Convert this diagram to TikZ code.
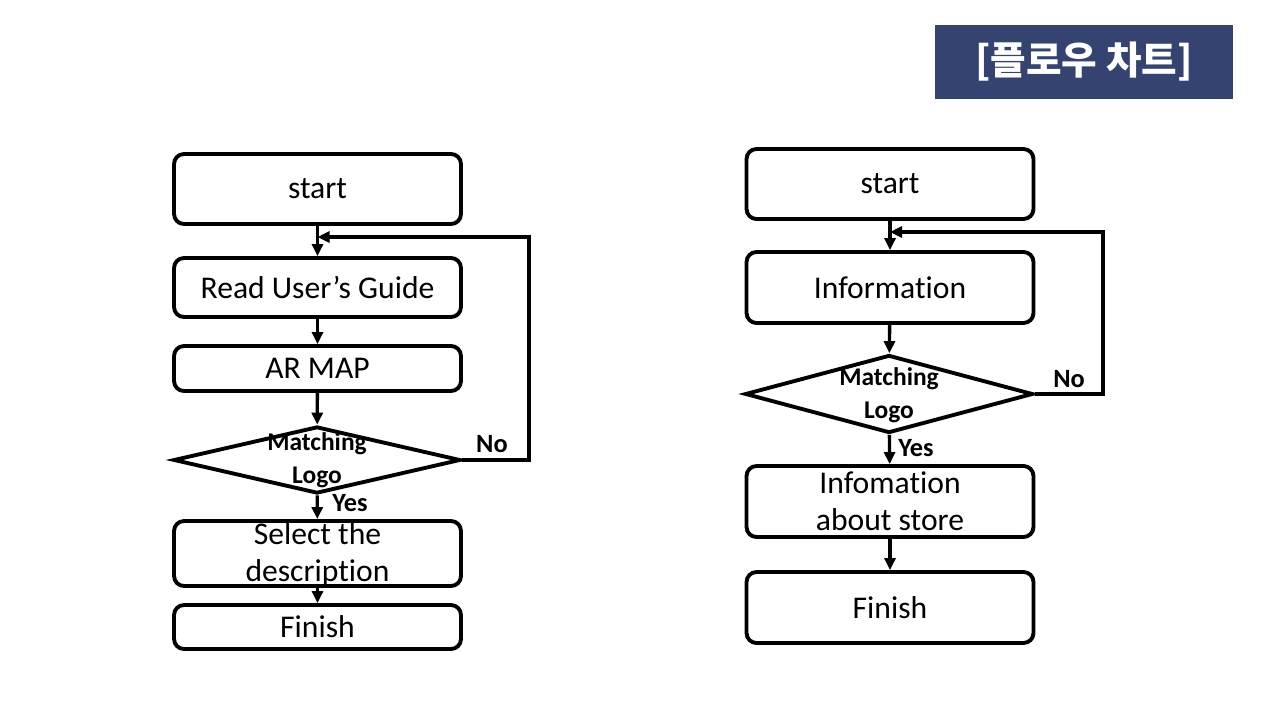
\documentclass[tikz,border=0pt]{standalone}
\usepackage{fontspec}
\setmainfont{Carlito}[Ligatures=CommonOff]
\newfontfamily\krfont{Noto Sans CJK KR}
\usetikzlibrary{shapes.geometric,arrows.meta}
\definecolor{titleblue}{HTML}{344370}
\begin{document}
\begin{tikzpicture}[x=0.02cm,y=-0.02cm,
  box/.style={draw,line width=2.2pt,rounded corners=0.2cm,minimum width=5.74cm,inner sep=0pt,align=center,font=\fontsize{18}{21}\selectfont},
  btext/.style={inner sep=0pt,align=center,font=\fontsize{18}{21}\selectfont},
  dec/.style={draw,line width=2.2pt,diamond,minimum width=5.74cm,inner sep=0pt},
  dtext/.style={align=center,font=\fontsize{14.5}{18.7}\bfseries\selectfont,inner sep=0pt},
  lab/.style={font=\fontsize{15}{18}\bfseries\selectfont,inner sep=0pt},
  conn/.style={line width=1.9pt,-{Triangle[length=0.24cm,width=0.22cm]}},
  wire/.style={line width=1.9pt}
]
\useasboundingbox (0,0) rectangle (1280,720);
% title
\node[fill=titleblue,minimum width=5.96cm,minimum height=1.48cm,inner sep=0pt,text=white,font=\krfont\fontsize{22}{26}\bfseries\selectfont] (title) at (1084,62) {[플로우 차트]};
% left flow
\node[box,minimum height=1.4cm] (s1) at (317.5,189) {start};
\node[box,minimum height=1.18cm] (r1) at (317.5,287.5) {Read User’s Guide};
\node[box,minimum height=0.9cm] (m1) at (317.5,368.5) {AR MAP};
\node[dec,minimum height=1.34cm] (d1) at (317,460) {};
\node[dtext] (d1t) at (317,460.5) {Matching\\Logo};
\node[box,minimum height=1.3cm] (sel) at (317.5,553.5) {};
\node[btext] (selt) at (317.5,554.5) {Select the\\description};
\node[box,minimum height=0.88cm] (f1) at (317.5,627) {Finish};
\coordinate (l1a) at (529,460);
\coordinate (l1b) at (529,237);
\draw[conn] (s1) -- (r1);
\draw[conn] (r1) -- (m1);
\draw[conn] (m1) -- (d1);
\draw[conn] (d1) -- (sel);
\draw[conn] (sel) -- (f1);
\draw[conn] (d1.east) -- (l1a) -- (l1b) -- (s1.south |- l1b);
\node[lab] (no1) at (492,444) {No};
\node[lab] (yes1) at (350,503) {Yes};
% right flow
\node[box,minimum height=1.4cm] (s2) at (890,184) {start};
\node[box,minimum height=1.42cm] (i2) at (890,287.5) {Information};
\node[dec,minimum height=1.56cm,minimum width=5.76cm] (d2) at (889,394) {};
\node[dtext] (d2t) at (889,395) {Matching\\Logo};
\node[box,minimum height=1.42cm] (st2) at (890,501.5) {};
\node[btext] (st2t) at (890,501.5) {Infomation\\about store};
\node[box,minimum height=1.42cm] (f2) at (890,607.5) {Finish};
\coordinate (l2a) at (1103,394);
\coordinate (l2b) at (1103,232);
\draw[conn] (s2) -- (i2);
\draw[conn] (i2) -- (d2);
\draw[conn] (d2) -- (st2);
\draw[conn] (st2) -- (f2);
\draw[conn] (d2.east) -- (l2a) -- (l2b) -- (s2.south |- l2b);
\node[lab] (no2) at (1069,379) {No};
\node[lab] (yes2) at (916,448) {Yes};
\end{tikzpicture}
\end{document}
